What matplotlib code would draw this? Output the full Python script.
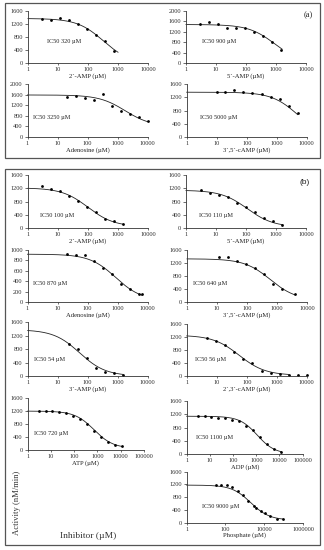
import numpy as np
import matplotlib
matplotlib.use("Agg")
import matplotlib.pyplot as plt
from matplotlib.patches import Rectangle
from matplotlib.ticker import FixedLocator, NullLocator

plt.rcParams['font.family'] = ['Liberation Serif', 'DejaVu Serif']

W, H = 324, 550

# ---------------- data (x in µM, y in nM/min) ----------------
a1_x = [2.93, 5.86, 11.7, 23.4, 46.9, 93.8, 188, 375, 750]
a1_y = [1366, 1335, 1386, 1315, 1203, 1060, 866, 662, 367]

a2_x = [2.93, 5.86, 11.7, 23.4, 46.9, 93.8, 188, 375, 750, 1500]
a2_y = [1506, 1570, 1506, 1342, 1354, 1342, 1203, 1050, 810, 519]

a3_x = [20, 40, 80, 160, 320, 640, 1280, 2560, 5120, 10000]
a3_y = [1506, 1557, 1481, 1418, 1646, 1190, 1000, 861, 747, 608]

a4_x = [10, 19.5, 39, 78, 156, 312, 625, 1250, 2500, 5000]
a4_y = [1377, 1357, 1438, 1367, 1347, 1306, 1215, 1144, 942, 739]

b1_x = [2.93, 5.86, 11.7, 23.4, 46.9, 93.8, 188, 375, 750, 1500]
b1_y = [1260, 1190, 1120, 970, 830, 640, 490, 280, 200, 130]

b2_x = [3.2, 6.4, 12.8, 25.6, 51, 102, 205, 410, 820, 1640]
b2_y = [1140, 1060, 1010, 930, 760, 630, 490, 300, 200, 100]

b3_x = [20, 40, 80, 160, 320, 640, 1280, 2560, 5120, 6500]
b3_y = [917, 898, 898, 796, 650, 548, 357, 248, 159, 153]

b4_x = [11.7, 23.4, 46.9, 93.8, 188, 375, 750, 1500, 4000]
b4_y = [1396, 1386, 1274, 1172, 1039, 876, 571, 408, 255]

b5_x = [23.4, 46.9, 93.8, 188, 375, 750, 1500]
b5_y = [964, 815, 547, 248, 119, 80, 40]

b6_x = [4.9, 9.8, 19.5, 39, 78, 156, 312, 625, 1250, 2500, 5000, 10000]
b6_y = [1175, 1084, 952, 749, 537, 405, 172, 91, 81, 40, 40, 50]

b7_x = [2.93, 5.86, 11.7, 23.4, 46.9, 93.8, 188, 375, 750, 1500, 3000, 6000, 12000]
b7_y = [1192, 1192, 1192, 1172, 1121, 1040, 948, 785, 581, 408, 245, 163, 112]

b8_x = [2.93, 5.86, 11.7, 23.4, 46.9, 93.8, 188, 375, 750, 1500, 3000, 6000, 12000]
b8_y = [1147, 1137, 1117, 1077, 1077, 1036, 1006, 855, 735, 503, 292, 161, 50]

b9_x = [32, 60, 120, 220, 440, 800, 1450, 2950, 3750, 6700, 10800, 19600, 45000, 92000]
b9_y = [1171, 1171, 1171, 1108, 993, 858, 690, 512, 470, 356, 300, 209, 125, 115]

# fitted curve parameters: top, bottom, midpoint, slope, curve end (µM)
fit_top    = [1370, 1480, 1595, 1360, 1210, 1140, 920, 1330, 1380, 1250, 1190, 1140, 1180]
fit_bottom = [0, 0, 400, 0, 40, 30, 30, 60, 0, 30, 50, 0, 80]
fit_mid    = [320, 900, 1800, 5000, 100, 110, 870, 600, 54, 56, 720, 1100, 2000]
fit_slope  = [1.0, 1.0, 1.0, 1.0, 1.0, 1.0, 1.0, 1.0, 1.0, 1.0, 1.05, 1.15, 0.9]
fit_end    = [1000, 1600, 10000, 5000, 1500, 1700, 6500, 4000, 1500, 2500, 12000, 12000, 95000]

ic50_labels = ["IC50 320 µM", "IC50 900 µM", "IC50 3250 µM", "IC50 5000 µM",
               "IC50 100 µM", "IC50 110 µM", "IC50 870 µM", "IC50 640 µM",
               "IC50 54 µM", "IC50 56 µM", "IC50 720 µM", "IC50 1100 µM",
               "IC50 9000 µM"]
x_labels = ["2´-AMP (µM)", "5´-AMP (µM)", "Adenosine (µM)", "3´,5´-cAMP (µM)",
            "2´-AMP (µM)", "5´-AMP (µM)", "Adenosine (µM)", "3´,5´-cAMP (µM)",
            "3´-AMP (µM)", "2´,3´-cAMP (µM)", "ATP (µM)", "ADP (µM)",
            "Phosphate (µM)"]
y_max = [1600, 2000, 2000, 1600, 1600, 1600, 1000, 1600, 1600, 1600, 1600, 1600, 1600]
y_step = [400, 400, 400, 400, 400, 400, 200, 400, 400, 400, 400, 400, 400]
x_ticks_sets = {
    'd4': [1, 10, 100, 1000, 10000],
    'd5': [1, 10, 100, 1000, 10000, 100000],
    'p6': [1, 100, 10000, 1000000],
}
panel_xticks = ['d4'] * 10 + ['d5', 'd5', 'p6']

xs = [a1_x, a2_x, a3_x, a4_x, b1_x, b2_x, b3_x, b4_x, b5_x, b6_x, b7_x, b8_x, b9_x]
ys = [a1_y, a2_y, a3_y, a4_y, b1_y, b2_y, b3_y, b4_y, b5_y, b6_y, b7_y, b8_y, b9_y]

# ---------------- layout (pixels: left, right, top, bottom) ----------------
boxes = [
    (28, 148, 11, 63), (186, 306, 11, 63),
    (27.5, 147.5, 84.3, 137), (186.7, 306.7, 84.3, 137),
    (28, 148, 175, 228), (186, 306, 175, 228),
    (27.5, 147.5, 250, 302.3), (187, 307, 250, 302.3),
    (27.7, 147.5, 322.3, 376), (186.7, 306.7, 323.7, 376.3),
    (27.7, 143.7, 397.7, 450), (186.7, 302.7, 401, 454),
    (186.7, 303, 471.7, 522.7),
]
ic_pos = [(47, 42), (202, 42), (33, 117.7), (200, 118),
          (40, 215), (199, 215), (33, 283.7), (193, 283),
          (34, 360), (195, 360), (34, 433.7), (196, 438), (202, 506.7)]

fig = plt.figure(figsize=(W / 100, H / 100), dpi=100)
fig.patch.set_facecolor('white')

def hill(x, top, bottom, mid, n):
    return bottom + (top - bottom) / (1.0 + (x / mid) ** n)

for i in range(13):
    l, r, t, b = boxes[i]
    ax = fig.add_axes([l / W, 1 - b / H, (r - l) / W, (b - t) / H])
    ax.set_xscale('log')
    ticks = x_ticks_sets[panel_xticks[i]]
    ax.set_xlim(ticks[0], ticks[-1])
    ax.set_ylim(0, y_max[i])
    ax.xaxis.set_major_locator(FixedLocator(ticks))
    ax.xaxis.set_minor_locator(NullLocator())
    ax.set_xticklabels([str(v) for v in ticks])
    yt = list(range(0, y_max[i] + 1, y_step[i]))
    ax.set_yticks(yt)
    ax.set_yticklabels([str(v) for v in yt])
    for s in ['top', 'right']:
        ax.spines[s].set_visible(False)
    for s in ['left', 'bottom']:
        ax.spines[s].set_linewidth(0.6)
        ax.spines[s].set_color('#333333')
    ax.tick_params(axis='both', labelsize=4.6, length=2, width=0.5, pad=1.5, colors='#333333')
    ax.tick_params(axis='x', length=1.5)
    ax.patch.set_alpha(0)
    xc = np.logspace(0, np.log10(fit_end[i]), 200)
    ax.plot(xc, hill(xc, fit_top[i], fit_bottom[i], fit_mid[i], fit_slope[i]),
            color='#222222', lw=0.6, clip_on=False)
    ax.plot(xs[i], ys[i], 'o', color='black', ms=2.0, mec='black', mew=0, clip_on=False)
    ax.set_xlabel(x_labels[i], fontsize=4.8, labelpad=0.5, color='#222222')
    px, py = ic_pos[i]
    fig.text(px / W, 1 - py / H, ic50_labels[i], fontsize=4.5, ha='left', va='center',
             color='#222222')

# panel frames
for (x0, y0, x1, y1) in [(4.5, 3, 319.5, 158), (4.5, 169, 319.5, 545)]:
    fig.add_artist(Rectangle((x0 / W, 1 - y1 / H), (x1 - x0) / W, (y1 - y0) / H,
                             transform=fig.transFigure, fill=False,
                             edgecolor='#555555', lw=0.9))

fig.text(308 / W, 1 - 15 / H, "(a)", fontsize=6, ha='center', va='center', color='#222222')
fig.text(305 / W, 1 - 183 / H, "(b)", fontsize=6, ha='center', va='center', color='#222222',
         family=['Liberation Sans', 'DejaVu Sans'])
fig.text(17 / W, 1 - 503 / H, "Activity (nM/min)", fontsize=6.2, rotation=90,
         ha='center', va='center', color='#333333')
fig.text(88 / W, 1 - 536 / H, "Inhibitor (µM)", fontsize=6.8, ha='center', va='center',
         color='#333333')

fig.savefig("out.png", dpi=100)
